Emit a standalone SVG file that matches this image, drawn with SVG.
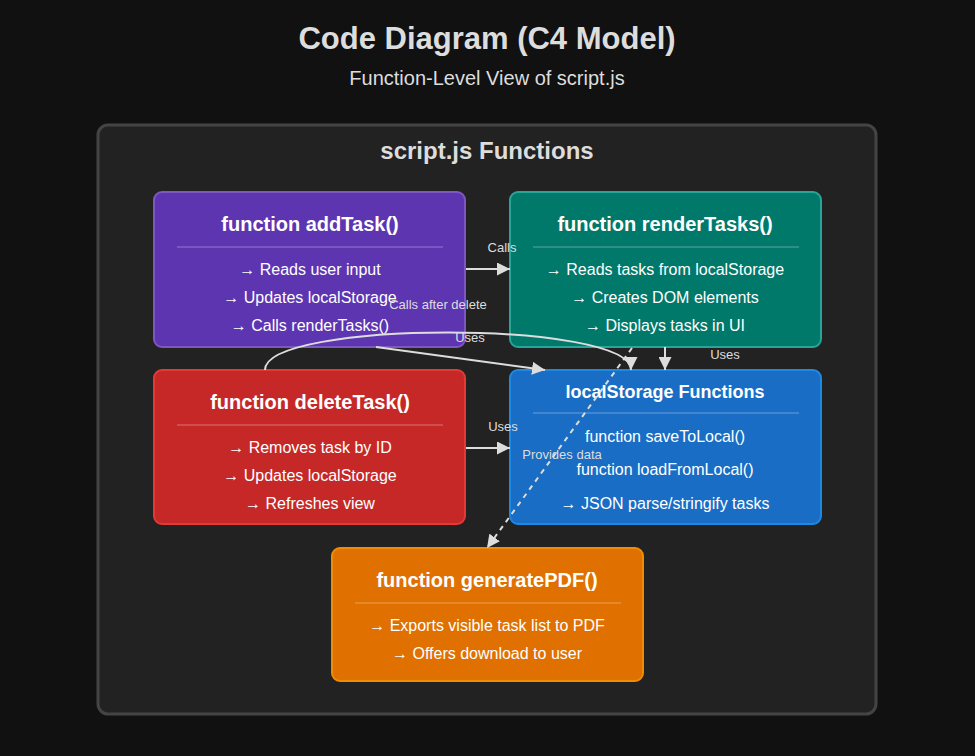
<svg xmlns="http://www.w3.org/2000/svg" width="975" height="756" viewBox="0 0 975 756">
<style>
text{font-family:"Liberation Sans",Arial,sans-serif;fill:#fff;text-anchor:middle}
.h1{font-size:31px;font-weight:bold;fill:#ddd}
.sub{font-size:20px;fill:#ddd}
.ct{font-size:24px;font-weight:bold;fill:#ddd}
.bt{font-size:20px;font-weight:bold}
.bt2{font-size:18px;font-weight:bold}
.bl{font-size:16px}
.lbl{font-size:13px;fill:#ddd}
.sep{stroke:rgba(255,255,255,0.35);stroke-width:1}
.edge{fill:none;stroke:#ddd;stroke-width:2}
.dash{stroke-dasharray:5,5}
</style>
<defs>
<marker id="arr" markerWidth="13" markerHeight="13" refX="13" refY="6.5" orient="auto" markerUnits="userSpaceOnUse" viewBox="0 0 13 13">
<path d="M0,0 L13,6.5 L0,13 z" fill="#ddd"/>
</marker>
</defs>
<rect width="975" height="756" fill="#111"/>
<text class="h1" x="487" y="49">Code Diagram (C4 Model)</text>
<text class="sub" x="487" y="85">Function-Level View of script.js</text>
<g id="container">
<rect x="98" y="125" width="778" height="589" rx="10" fill="#222" stroke="#444" stroke-width="3"/>
<text class="ct" x="487" y="159">script.js Functions</text>
</g>
<g id="addTask">
<rect x="154" y="192" width="311" height="155" rx="8" fill="#5e35b1" stroke="#7e57c2" stroke-width="2"/>
<text class="bt" x="310" y="231">function addTask()</text>
<line class="sep" x1="177" y1="247" x2="443" y2="247"/>
<text class="bl" x="310" y="275">→ Reads user input</text>
<text class="bl" x="310" y="303">→ Updates localStorage</text>
<text class="bl" x="310" y="331">→ Calls renderTasks()</text>
</g>
<g id="renderTasks">
<rect x="510" y="192" width="311" height="155" rx="8" fill="#00796b" stroke="#26a69a" stroke-width="2"/>
<text class="bt" x="665" y="231">function renderTasks()</text>
<line class="sep" x1="533" y1="247" x2="799" y2="247"/>
<text class="bl" x="665" y="275">→ Reads tasks from localStorage</text>
<text class="bl" x="665" y="303">→ Creates DOM elements</text>
<text class="bl" x="665" y="331">→ Displays tasks in UI</text>
</g>
<g id="deleteTask">
<rect x="154" y="370" width="311" height="154" rx="8" fill="#c62828" stroke="#e53935" stroke-width="2"/>
<text class="bt" x="310" y="409">function deleteTask()</text>
<line class="sep" x1="177" y1="425" x2="443" y2="425"/>
<text class="bl" x="310" y="453">→ Removes task by ID</text>
<text class="bl" x="310" y="481">→ Updates localStorage</text>
<text class="bl" x="310" y="509">→ Refreshes view</text>
</g>
<g id="localStorage">
<rect x="510" y="370" width="311" height="154" rx="8" fill="#1a6dc4" stroke="#1e88e5" stroke-width="2"/>
<text class="bt2" x="665" y="398">localStorage Functions</text>
<line class="sep" x1="533" y1="413" x2="799" y2="413"/>
<text class="bl" x="665" y="442">function saveToLocal()</text>
<text class="bl" x="665" y="475">function loadFromLocal()</text>
<text class="bl" x="665" y="509">→ JSON parse/stringify tasks</text>
</g>
<g id="generatePDF">
<rect x="332" y="548" width="311" height="133" rx="8" fill="#e07000" stroke="#f08c00" stroke-width="2"/>
<text class="bt" x="487" y="587">function generatePDF()</text>
<line class="sep" x1="355" y1="603" x2="621" y2="603"/>
<text class="bl" x="487" y="631">→ Exports visible task list to PDF</text>
<text class="bl" x="487" y="659">→ Offers download to user</text>
</g>
<g id="connectors">
<line class="edge" x1="466" y1="269" x2="510" y2="269" marker-end="url(#arr)"/>
<text class="lbl" x="502" y="252">Calls</text>
<path class="edge" d="M265,370 C265,320 631,320 631,370" marker-end="url(#arr)"/>
<text class="lbl" x="438" y="309">Calls after delete</text>
<line class="edge" x1="376" y1="347" x2="545" y2="370" marker-end="url(#arr)"/>
<text class="lbl" x="470" y="342">Uses</text>
<line class="edge" x1="665" y1="347" x2="665" y2="370" marker-end="url(#arr)"/>
<text class="lbl" x="725" y="359">Uses</text>
<line class="edge" x1="466" y1="448" x2="510" y2="448" marker-end="url(#arr)"/>
<text class="lbl" x="503" y="431">Uses</text>
<line class="edge dash" x1="632" y1="348" x2="487" y2="548" marker-end="url(#arr)"/>
<text class="lbl" x="562" y="459">Provides data</text>
</g>
</svg>
